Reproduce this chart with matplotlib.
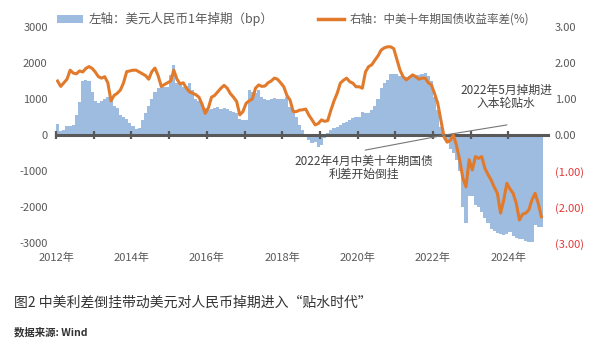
import numpy as np
import pandas as pd
import matplotlib
matplotlib.use("Agg")
import matplotlib.pyplot as plt
from matplotlib.patches import Patch
from matplotlib.lines import Line2D

plt.rcParams['font.family'] = ['Noto Sans CJK SC', 'DejaVu Sans']
plt.rcParams['axes.unicode_minus'] = False

# monthly data, 2012-01 .. 2024-11
# left axis: USD/CNY 1y swap points (bp)
swap_bp = [
    300, 120, 140, 250, 260, 280, 560, 920, 1500, 1530, 1500, 1200,          # 2012
    950, 900, 950, 1000, 1060, 1000, 800, 740, 560, 510, 450, 320,           # 2013
    250, 180, 200, 420, 600, 800, 1000, 1200, 1300, 1320, 1340, 1340,        # 2014
    1670, 1950, 1450, 1400, 1330, 1350, 1450, 1250, 1000, 950, 830, 760,     # 2015
    700, 720, 750, 780, 720, 750, 720, 680, 640, 600, 450, 420,              # 2016
    420, 1250, 1200, 1160, 1250, 1060, 1000, 970, 1000, 1020, 1000, 1000,    # 2017
    1000, 1060, 790, 600, 510, 280, 140, -20, -140, -230, -200, -320,        # 2018
    -280, -90, 50, 140, 200, 230, 280, 320, 370, 420, 480, 510,              # 2019
    510, 650, 600, 620, 690, 800, 1000, 1300, 1440, 1530, 1700, 1700,        # 2020
    1700, 1650, 1620, 1620, 1650, 1700, 1680, 1670, 1700, 1710, 1650, 1500,  # 2021
    1060, 690, 230, 20, -230, -380, -510, -690, -1000, -2000, -2450, -1700,  # 2022
    -1700, -1950, -2000, -2150, -2300, -2450, -2600, -2680, -2730, -2750, -2780, -2750,  # 2023
    -2700, -2800, -2850, -2880, -2900, -2950, -2980, -2960, -2500, -2550, -2550,        # 2024
]
# right axis: China-US 10y government bond yield spread (%)
spread_pct = [
    1.50, 1.35, 1.45, 1.55, 1.80, 1.72, 1.70, 1.78, 1.75, 1.85, 1.90, 1.85,
    1.75, 1.62, 1.58, 1.62, 1.45, 0.95, 1.10, 1.16, 1.25, 1.45, 1.76, 1.78,
    1.80, 1.80, 1.75, 1.70, 1.65, 1.55, 1.76, 1.86, 1.65, 1.35, 1.40, 1.45,
    1.50, 1.80, 1.55, 1.42, 1.45, 1.30, 1.20, 1.16, 1.12, 1.05, 0.85, 0.60,
    0.75, 1.05, 1.10, 1.20, 1.30, 1.38, 1.30, 1.15, 1.05, 0.93, 0.56, 0.65,
    0.88, 0.95, 1.00, 1.30, 1.39, 1.35, 1.36, 1.45, 1.50, 1.58, 1.55, 1.45,
    1.34, 1.10, 0.97, 0.65, 0.65, 0.69, 0.70, 0.72, 0.55, 0.42, 0.28, 0.32,
    0.42, 0.38, 0.40, 0.69, 0.95, 1.16, 1.44, 1.52, 1.58, 1.48, 1.44, 1.34,
    1.34, 1.30, 1.75, 1.90, 1.95, 2.08, 2.20, 2.36, 2.42, 2.45, 2.45, 2.40,
    2.10, 1.80, 1.62, 1.53, 1.60, 1.67, 1.62, 1.55, 1.58, 1.58, 1.45, 1.39,
    1.15, 0.88, 0.42, -0.05, -0.20, -0.15, 0.00, -0.30, -0.70, -1.20, -1.44, -0.69,
    -0.97, -0.60, -0.65, -0.60, -0.92, -1.10, -1.25, -1.45, -1.62, -2.17, -1.81, -1.34,
    -1.50, -1.62, -1.90, -2.36, -2.20, -2.17, -2.08, -1.80, -1.62, -1.90, -2.27,
]
months = pd.period_range('2012-01', '2024-11', freq='M')
t = months.year + (months.month - 0.5) / 12.0

year_ticks = list(range(2012, 2025))
year_labels = [f'{y}年' if y % 2 == 0 else '' for y in year_ticks]
left_ticks = [-3000, -2000, -1000, 0, 1000, 2000, 3000]
right_ticks = [-3, -2, -1, 0, 1, 2, 3]
right_labels = ['(3.00)', '(2.00)', '(1.00)', '0.00', '1.00', '2.00', '3.00']

invert_date = 2022.32   # April 2022, spread turns negative

BLUE = '#9dbce0'
ORANGE = '#e27a2c'
GREY = '#595959'
RED = '#e03a3a'

fig = plt.figure(figsize=(6.05, 3.56), dpi=100)
ax = fig.add_axes([56 / 605, 1 - 243 / 356, (548 - 56) / 605, (243 - 27) / 356])
ax.bar(t, swap_bp, width=1 / 12, color=BLUE, linewidth=0)
ax.set_xlim(2012, 2025.05)
ax.set_ylim(-3000, 3000)

for s in ['top', 'left', 'right']:
    ax.spines[s].set_visible(False)
ax.spines['bottom'].set_position(('data', 0))
ax.spines['bottom'].set_color(GREY)
ax.spines['bottom'].set_linewidth(2.2)
ax.set_xticks(year_ticks)
ax.tick_params(axis='x', direction='inout', length=6, width=1.6, color=GREY,
               labelbottom=False)
ax.set_yticks(left_ticks)
ax.set_yticklabels([str(v) for v in left_ticks])
ax.tick_params(axis='y', length=0, pad=6, labelsize=8, labelcolor=GREY)

sec = ax.secondary_xaxis('bottom')
sec.set_xticks(year_ticks)
sec.set_xticklabels(year_labels)
sec.tick_params(length=0, pad=7, labelsize=8, labelcolor=GREY)
sec.spines['bottom'].set_visible(False)

ax2 = ax.twinx()
ax2.plot(t, spread_pct, color=ORANGE, lw=2.2, solid_joinstyle='round')
ax2.set_ylim(-3, 3)
for s in ax2.spines.values():
    s.set_visible(False)
ax2.set_yticks(right_ticks)
ax2.set_yticklabels(right_labels)
ax2.tick_params(axis='y', length=0, pad=5, labelsize=8)
for lab, v in zip(ax2.get_yticklabels(), right_ticks):
    lab.set_color(RED if v < 0 else GREY)

# leader lines and notes
line_kw = dict(arrowstyle='-', color='#777777', lw=0.8, shrinkA=0, shrinkB=0)
ax2.annotate('', xy=(invert_date, 0), xytext=(2023.96, 0.28), arrowprops=line_kw)
ax2.annotate('', xy=(invert_date, 0), xytext=(2020.2, -0.42), arrowprops=line_kw)
ax2.text(2023.94, 1.06, '2022年5月掉期进\n入本轮贴水', ha='center', va='center',
         fontsize=8.5, color='#404040', linespacing=1.05)
ax2.text(2020.17, -0.92, '2022年4月中美十年期国债\n利差开始倒挂', ha='center', va='center',
         fontsize=8.5, color='#404040', linespacing=1.05)

handles = [Patch(facecolor=BLUE, edgecolor='none'), Line2D([], [], color=ORANGE, lw=2.5)]
labels = ['左轴：美元人民币1年掉期（bp）', '右轴：中美十年期国债收益率差(%)']
leg = fig.legend(handles, labels, loc='center left', bbox_to_anchor=(57 / 605, 1 - 19 / 356),
                 ncol=2, frameon=False, fontsize=9, handlelength=2.1, handleheight=0.6,
                 handletextpad=0.4, columnspacing=3.6, borderpad=0, borderaxespad=0)
for txt in leg.get_texts():
    txt.set_color(GREY)
# the orange label is set a little tighter in the original
leg.get_texts()[1].set_fontsize(8.3)

fig.text(14 / 605, 1 - 303 / 356, '图2 中美利差倒挂带动美元对人民币掉期进入“贴水时代”',
         fontsize=10, color='#333333', va='center')
fig.text(14 / 605, 1 - 332 / 356, '数据来源: Wind', fontsize=7.5, color='#333333',
         va='center', weight='bold')

fig.savefig('out.png', dpi=100)
